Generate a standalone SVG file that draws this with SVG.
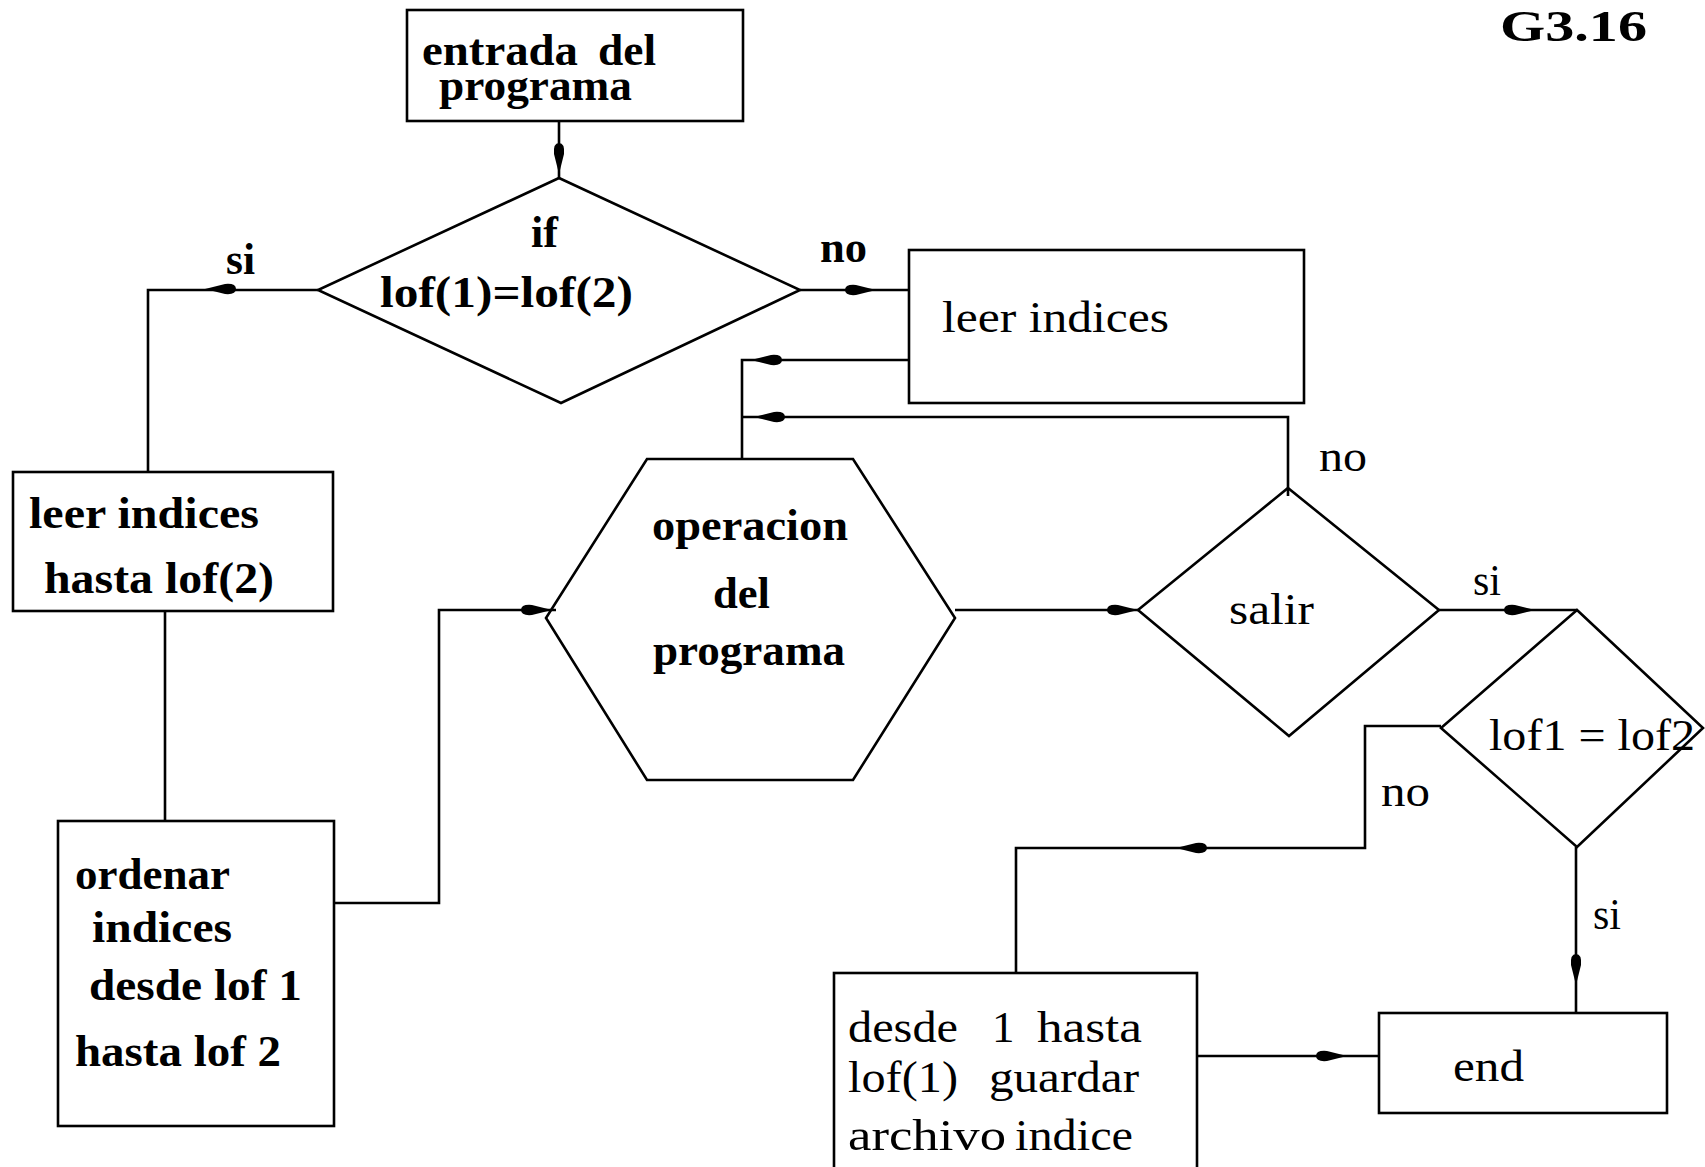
<svg xmlns="http://www.w3.org/2000/svg" xmlns:xlink="http://www.w3.org/1999/xlink" width="1705" height="1167" viewBox="0 0 1705 1167">
<style>
.s{fill:none;stroke:#000;stroke-width:2.6;stroke-linejoin:miter}
.c{fill:none;stroke:#000;stroke-width:2.6}
.t{font-family:"Liberation Serif","Times New Roman",serif;font-size:45px;fill:#000}
.b{font-weight:bold}
</style>
<defs>
<path id="ah" d="M0,0 L-20,-5 Q-31,-6 -31,0 Q-31,6 -20,5 Z" fill="#000"/>
</defs>
<rect width="1705" height="1167" fill="#fff"/>

<text class="t b" x="1500" y="41" font-size="46" textLength="147" lengthAdjust="spacingAndGlyphs">G3.16</text>

<g id="connectors">
<path class="c" d="M559,121 V178"/>
<path class="c" d="M318,290 H148 V472"/>
<path class="c" d="M800,290 H909"/>
<path class="c" d="M165,611 V821"/>
<path class="c" d="M334,903 H439 V610 H556"/>
<path class="c" d="M909,360 H742 V459"/>
<path class="c" d="M1288,496 V417 H742"/>
<path class="c" d="M955,610 H1138"/>
<path class="c" d="M1439,610 H1577"/>
<path class="c" d="M1441,726 H1365 V848 H1016 V973"/>
<path class="c" d="M1576,847 V1013"/>
<path class="c" d="M1197,1056 H1379"/>
<use xlink:href="#ah" href="#ah" transform="translate(559,174) rotate(90)"/>
<use xlink:href="#ah" href="#ah" transform="translate(205,289) rotate(180)"/>
<use xlink:href="#ah" href="#ah" transform="translate(876,290)"/>
<use xlink:href="#ah" href="#ah" transform="translate(552,610)"/>
<use xlink:href="#ah" href="#ah" transform="translate(751,360) rotate(180)"/>
<use xlink:href="#ah" href="#ah" transform="translate(754,417) rotate(180)"/>
<use xlink:href="#ah" href="#ah" transform="translate(1138,610)"/>
<use xlink:href="#ah" href="#ah" transform="translate(1535,610)"/>
<use xlink:href="#ah" href="#ah" transform="translate(1176,848) rotate(180)"/>
<use xlink:href="#ah" href="#ah" transform="translate(1576,985) rotate(90)"/>
<use xlink:href="#ah" href="#ah" transform="translate(1347,1056)"/>
<text class="t b" x="226" y="274" textLength="29" lengthAdjust="spacingAndGlyphs">si</text>
<text class="t b" x="820" y="262" textLength="47" lengthAdjust="spacingAndGlyphs">no</text>
<text class="t" x="1319" y="471" textLength="48" lengthAdjust="spacingAndGlyphs">no</text>
<text class="t" x="1473" y="595" textLength="28" lengthAdjust="spacingAndGlyphs">si</text>
<text class="t" x="1381" y="806" textLength="49" lengthAdjust="spacingAndGlyphs">no</text>
<text class="t" x="1593" y="929" textLength="28" lengthAdjust="spacingAndGlyphs">si</text>
</g>

<g id="n-entrada">
<rect class="s" x="407" y="10" width="336" height="111"/>
<text class="t b" x="422" y="65" textLength="156" lengthAdjust="spacingAndGlyphs">entrada</text>
<text class="t b" x="598" y="65" textLength="58" lengthAdjust="spacingAndGlyphs">del</text>
<text class="t b" x="439" y="100" textLength="193" lengthAdjust="spacingAndGlyphs">programa</text>
</g>

<g id="n-if">
<polygon class="s" points="559,178 800,290 561,403 318,290"/>
<text class="t b" x="531" y="247" textLength="27" lengthAdjust="spacingAndGlyphs">if</text>
<text class="t b" x="380" y="307" textLength="253" lengthAdjust="spacingAndGlyphs">lof(1)=lof(2)</text>
</g>

<g id="n-leer1">
<rect class="s" x="13" y="472" width="320" height="139"/>
<text class="t b" x="29" y="528" textLength="230" lengthAdjust="spacingAndGlyphs">leer indices</text>
<text class="t b" x="44" y="593" textLength="230" lengthAdjust="spacingAndGlyphs">hasta lof(2)</text>
</g>

<g id="n-ordenar">
<rect class="s" x="58" y="821" width="276" height="305"/>
<text class="t b" x="75" y="889" textLength="155" lengthAdjust="spacingAndGlyphs">ordenar</text>
<text class="t b" x="92" y="942" textLength="140" lengthAdjust="spacingAndGlyphs">indices</text>
<text class="t b" x="89" y="1000" textLength="213" lengthAdjust="spacingAndGlyphs">desde lof 1</text>
<text class="t b" x="75" y="1066" textLength="206" lengthAdjust="spacingAndGlyphs">hasta lof 2</text>
</g>

<g id="n-operacion">
<polygon class="s" points="647,459 853,459 955,618 853,780 647,780 546,618"/>
<text class="t b" x="652" y="540" textLength="196" lengthAdjust="spacingAndGlyphs">operacion</text>
<text class="t b" x="713" y="608" textLength="57" lengthAdjust="spacingAndGlyphs">del</text>
<text class="t b" x="653" y="665" textLength="192" lengthAdjust="spacingAndGlyphs">programa</text>
</g>

<g id="n-leer2">
<rect class="s" x="909" y="250" width="395" height="153"/>
<text class="t" x="942" y="332" textLength="227" lengthAdjust="spacingAndGlyphs">leer indices</text>
</g>

<g id="n-salir">
<polygon class="s" points="1288,488 1439,610 1289,736 1138,610"/>
<text class="t" x="1229" y="624" textLength="85" lengthAdjust="spacingAndGlyphs">salir</text>
</g>

<g id="n-lof">
<polygon class="s" points="1577,610 1703,728 1577,847 1441,728"/>
<text class="t" x="1489" y="750" textLength="206" lengthAdjust="spacingAndGlyphs">lof1 = lof2</text>
</g>

<g id="n-desde">
<rect class="s" x="834" y="973" width="363" height="204"/>
<text class="t" x="848" y="1042" textLength="110" lengthAdjust="spacingAndGlyphs">desde</text>
<text class="t" x="992" y="1042">1</text>
<text class="t" x="1037" y="1042" textLength="105" lengthAdjust="spacingAndGlyphs">hasta</text>
<text class="t" x="848" y="1092" textLength="110" lengthAdjust="spacingAndGlyphs">lof(1)</text>
<text class="t" x="989" y="1092" textLength="150" lengthAdjust="spacingAndGlyphs">guardar</text>
<text class="t" x="848" y="1150" textLength="158" lengthAdjust="spacingAndGlyphs">archivo</text>
<text class="t" x="1015" y="1150" textLength="118" lengthAdjust="spacingAndGlyphs">indice</text>
</g>

<g id="n-end">
<rect class="s" x="1379" y="1013" width="288" height="100"/>
<text class="t" x="1453" y="1081" textLength="71" lengthAdjust="spacingAndGlyphs">end</text>
</g>
</svg>
